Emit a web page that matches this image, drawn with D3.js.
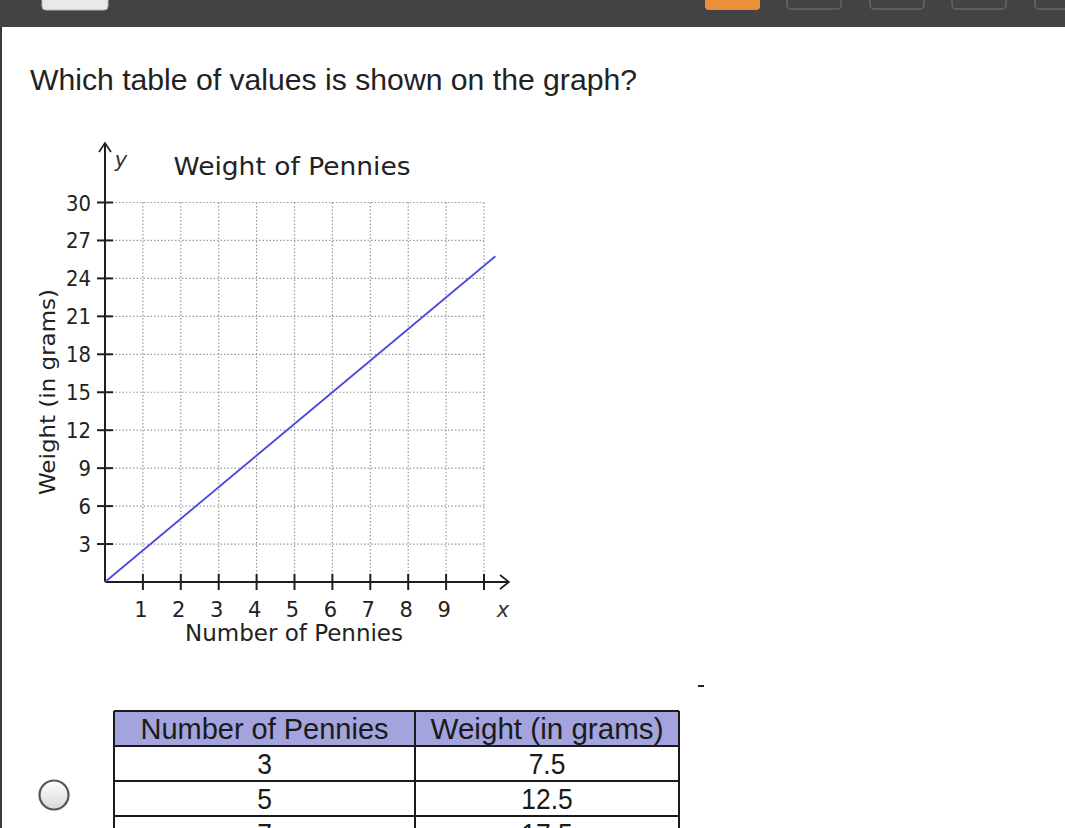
<!DOCTYPE html>
<html>
<head>
<meta charset="utf-8">
<script src="https://cdn.jsdelivr.net/npm/d3@7"></script>
<style>
  html, body { margin: 0; padding: 0; background: #fff; }
  svg { display: block; }
</style>
</head>
<body>
<svg id="chart" width="1065" height="828"></svg>
<script>
// ---- data ----
const questionText = "Which table of values is shown on the graph?";
const chartTitle = "Weight of Pennies";
const xAxisTitle = "Number of Pennies";
const yAxisTitle = "Weight (in grams)";
const xTicks = [1, 2, 3, 4, 5, 6, 7, 8, 9, 10];
const xTickLabels = ["1", "2", "3", "4", "5", "6", "7", "8", "9", ""];
const yTicks = [3, 6, 9, 12, 15, 18, 21, 24, 27, 30];
const pennies = [0, 2, 4, 6, 8, 10.3];
const weights = [0, 5, 10, 15, 20, 25.75];
const tableHeaders = ["Number of Pennies", "Weight (in grams)"];
const tablePennies = ["3", "5", "7"];
const tableWeights = ["7.5", "12.5", "17.5"];

const svg = d3.select("#chart");

// ---- page chrome ----
svg.append("rect").attr("x", 0).attr("y", 0).attr("width", 1065).attr("height", 27).attr("fill", "#434343");
svg.append("rect").attr("x", 42).attr("y", -8).attr("width", 66).attr("height", 18).attr("rx", 4).attr("fill", "#e9e9e9").attr("stroke", "#bbb");
svg.append("rect").attr("x", 705).attr("y", -8).attr("width", 55).attr("height", 18).attr("rx", 4).attr("fill", "#ea8f3a");
[787, 870, 952, 1035].forEach(bx => {
  svg.append("rect").attr("x", bx).attr("y", -8).attr("width", 54).attr("height", 17).attr("rx", 4)
    .attr("fill", "none").attr("stroke", "#666").attr("stroke-width", 1.5);
});
svg.append("rect").attr("x", 0).attr("y", 27).attr("width", 2).attr("height", 801).attr("fill", "#3a3a3a");

svg.append("text").attr("x", 30).attr("y", 90)
  .attr("font-family", "Liberation Sans, Arial, sans-serif").attr("font-size", 29.5)
  .attr("fill", "#222").attr("textLength", 607).attr("lengthAdjust", "spacingAndGlyphs").text(questionText);

// ---- chart ----
const x = d3.scaleLinear().domain([0, 10]).range([105, 484]);
const y = d3.scaleLinear().domain([0, 30]).range([582, 202.5]);
const chartFont = "DejaVu Sans, Verdana, sans-serif";

const grid = svg.append("g").attr("stroke", "#9a9a9a").attr("stroke-width", 1.2).attr("stroke-dasharray", "1.5,2");
grid.selectAll("line.v").data(xTicks).join("line")
  .attr("x1", d => x(d)).attr("x2", d => x(d)).attr("y1", y(0)).attr("y2", y(30));
grid.selectAll("line.h").data(yTicks).join("line")
  .attr("x1", x(0)).attr("x2", x(10)).attr("y1", d => y(d)).attr("y2", d => y(d));

const axisColor = "#1e1e1e";
// x axis
svg.append("line").attr("x1", x(0)).attr("x2", 508).attr("y1", y(0)).attr("y2", y(0)).attr("stroke", axisColor).attr("stroke-width", 2);
svg.append("path").attr("d", `M${500},${y(0) - 7} L${509},${y(0)} L${500},${y(0) + 7}`).attr("fill", "none").attr("stroke", axisColor).attr("stroke-width", 1.6);
svg.selectAll("line.xt").data(xTicks).join("line")
  .attr("x1", d => x(d)).attr("x2", d => x(d)).attr("y1", y(0) - 8).attr("y2", y(0) + 8)
  .attr("stroke", axisColor).attr("stroke-width", 2);
// y axis
svg.append("line").attr("x1", x(0)).attr("x2", x(0)).attr("y1", y(0)).attr("y2", 144).attr("stroke", axisColor).attr("stroke-width", 2);
svg.append("path").attr("d", `M${x(0) - 6},${152} L${x(0)},${143} L${x(0) + 6},${152}`).attr("fill", "none").attr("stroke", axisColor).attr("stroke-width", 1.6);
svg.selectAll("line.yt").data(yTicks).join("line")
  .attr("x1", x(0) - 8).attr("x2", x(0) + 8).attr("y1", d => y(d)).attr("y2", d => y(d))
  .attr("stroke", axisColor).attr("stroke-width", 2);

// tick labels
svg.selectAll("text.yl").data(yTicks).join("text")
  .attr("x", 91).attr("y", d => y(d) + 8).attr("text-anchor", "end")
  .attr("font-family", chartFont).attr("font-size", 21).attr("fill", "#222")
  .attr("textLength", d => String(d).length * 12.5).attr("lengthAdjust", "spacingAndGlyphs")
  .text(d => d);
svg.selectAll("text.xl").data(xTicks).join("text")
  .attr("x", d => x(d) - 2).attr("y", 617).attr("text-anchor", "middle")
  .attr("font-family", chartFont).attr("font-size", 21).attr("fill", "#222")
  .text((d, i) => xTickLabels[i]);

svg.append("text").attr("x", 503).attr("y", 617).attr("text-anchor", "middle")
  .attr("font-family", chartFont).attr("font-style", "italic").attr("font-size", 21).attr("fill", "#333").text("x");
svg.append("text").attr("x", 121).attr("y", 167).attr("text-anchor", "middle")
  .attr("font-family", chartFont).attr("font-style", "italic").attr("font-size", 21).attr("fill", "#333").text("y");

svg.append("text").attr("x", 292).attr("y", 175).attr("text-anchor", "middle")
  .attr("font-family", chartFont).attr("font-size", 25).attr("fill", "#222")
  .attr("textLength", 237).attr("lengthAdjust", "spacingAndGlyphs").text(chartTitle);
svg.append("text").attr("x", 294).attr("y", 641).attr("text-anchor", "middle")
  .attr("font-family", chartFont).attr("font-size", 23).attr("fill", "#222")
  .attr("textLength", 218).attr("lengthAdjust", "spacingAndGlyphs").text(xAxisTitle);
svg.append("text").attr("transform", "translate(55,392) rotate(-90)").attr("text-anchor", "middle")
  .attr("font-family", chartFont).attr("font-size", 21).attr("fill", "#222")
  .attr("textLength", 206).attr("lengthAdjust", "spacingAndGlyphs").text(yAxisTitle);

// data line
const pts = pennies.map((p, i) => [p, weights[i]]);
svg.append("path").datum(pts)
  .attr("d", d3.line().x(d => x(d[0])).y(d => y(d[1])))
  .attr("fill", "none").attr("stroke", "#4a4ae0").attr("stroke-width", 1.8);

// ---- table ----
const tableFont = "Liberation Sans, Arial, sans-serif";
const colX = [114, 415, 679];
const rowY = [711, 746, 781, 816, 851];
const headerWidths = [248, 233];
svg.append("rect").attr("x", colX[0]).attr("y", rowY[0]).attr("width", colX[2] - colX[0]).attr("height", rowY[1] - rowY[0]).attr("fill", "#a3a3dd");
const tg = svg.append("g").attr("stroke", "#1a1a1a").attr("stroke-width", 2);
rowY.forEach(ry => tg.append("line").attr("x1", colX[0]).attr("x2", colX[2]).attr("y1", ry).attr("y2", ry));
colX.forEach(cx => tg.append("line").attr("x1", cx).attr("x2", cx).attr("y1", rowY[0]).attr("y2", 828));
const tcells = [tableHeaders].concat(tablePennies.map((p, i) => [p, tableWeights[i]]));
tcells.forEach((row, r) => {
  row.forEach((txt, c) => {
    const t = svg.append("text").attr("x", (colX[c] + colX[c + 1]) / 2).attr("y", rowY[r] + 28)
      .attr("text-anchor", "middle").attr("font-family", tableFont).attr("font-size", 30).attr("fill", "#1a1a1a")
      .text(txt);
    const w = r === 0 ? headerWidths[c] : t.node().getComputedTextLength() * 0.88;
    t.attr("textLength", w).attr("lengthAdjust", "spacingAndGlyphs");
  });
});

// radio button
const rg = svg.append("defs").append("linearGradient").attr("id", "rad").attr("x1", 0).attr("y1", 0).attr("x2", 0).attr("y2", 1);
rg.append("stop").attr("offset", "0").attr("stop-color", "#ffffff");
rg.append("stop").attr("offset", "1").attr("stop-color", "#d8d8d8");
svg.append("circle").attr("cx", 54).attr("cy", 795).attr("r", 14.5).attr("fill", "url(#rad)").attr("stroke", "#555").attr("stroke-width", 2.2);

svg.append("line").attr("x1", 698).attr("x2", 704).attr("y1", 686).attr("y2", 686).attr("stroke", "#222").attr("stroke-width", 2);
</script>
</body>
</html>
